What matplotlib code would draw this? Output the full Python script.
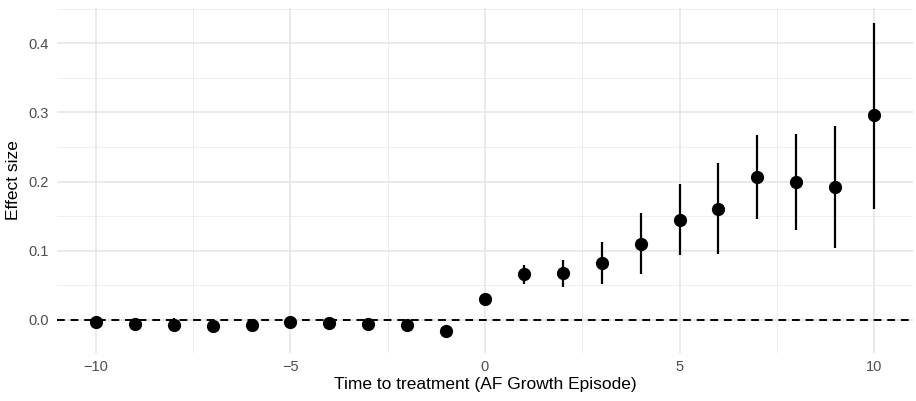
import numpy as np
import matplotlib.pyplot as plt
from matplotlib.ticker import MultipleLocator

plt.rcParams['font.family'] = ['Liberation Sans', 'DejaVu Sans']

# Datos
periodos = [-10, -9, -8, -7, -6, -5, -4, -3, -2, -1, 0, 1, 2, 3, 4, 5, 6, 7, 8, 9, 10]
efecto = [-0.003, -0.006, -0.007, -0.009, -0.008, -0.003, -0.004, -0.006, -0.007, -0.016,
          0.030, 0.066, 0.067, 0.082, 0.109, 0.145, 0.160, 0.207, 0.200, 0.192, 0.296]
ic_inf = [-0.006, -0.009, -0.017, -0.012, -0.011, -0.011, -0.010, -0.009, -0.010, -0.025,
          0.028, 0.052, 0.048, 0.052, 0.066, 0.094, 0.095, 0.146, 0.130, 0.104, 0.161]
ic_sup = [0.000, -0.003, 0.003, -0.006, -0.005, 0.005, 0.002, -0.003, -0.004, -0.009,
          0.032, 0.080, 0.086, 0.113, 0.154, 0.196, 0.227, 0.268, 0.269, 0.280, 0.429]

fig = plt.figure(figsize=(9.16, 4.01), dpi=100)
ax = fig.add_axes([0.0622, 0.1197, 0.9345, 0.8603])

# Rejilla estilo theme_minimal
ax.xaxis.set_major_locator(MultipleLocator(5))
ax.xaxis.set_minor_locator(MultipleLocator(2.5))
ax.yaxis.set_major_locator(MultipleLocator(0.1))
ax.yaxis.set_minor_locator(MultipleLocator(0.05))
ax.grid(True, which='major', color='#E6E6E6', linewidth=1.2)
ax.grid(True, which='minor', color='#EBEBEB', linewidth=0.6)
ax.set_axisbelow(True)
for s in ax.spines.values():
    s.set_visible(False)
ax.tick_params(which='both', length=0, labelsize=10.5, colors='#4D4D4D', pad=5)
ax.tick_params(axis='y', pad=6)

ax.axhline(0, color='black', linewidth=1.4, linestyle=(0, (4, 3)), zorder=2)

ax.vlines(periodos, ic_inf, ic_sup, color='black', linewidth=1.6, zorder=3)
ax.plot(periodos, efecto, 'o', color='black', markersize=8.5, zorder=4)

ax.set_xlim(-11, 11)
ax.set_ylim(-0.048, 0.451)
ax.yaxis.set_major_formatter(plt.FuncFormatter(lambda v, p: f'{v:.1f}'))

ax.set_xlabel('Time to treatment (AF Growth Episode)', fontsize=12.5, labelpad=2)
ax.set_ylabel('Effect size', fontsize=12.5, labelpad=5)

fig.savefig('out.png', dpi=100)
